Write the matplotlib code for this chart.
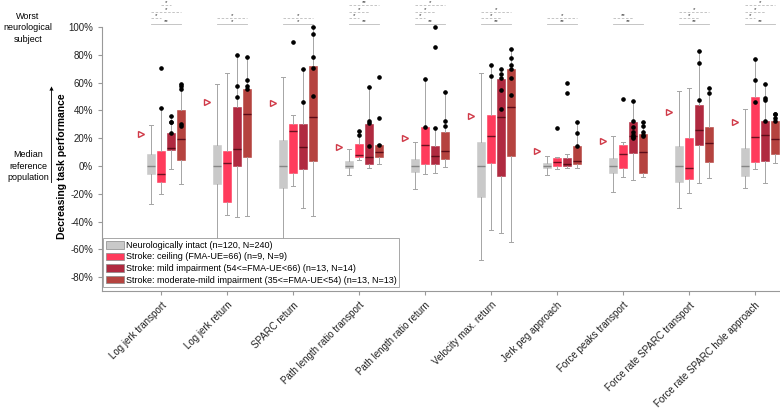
import matplotlib
matplotlib.use('Agg')
import matplotlib.pyplot as plt
import matplotlib.transforms as mtransforms
from matplotlib.patches import Patch
from matplotlib.lines import Line2D
import numpy as np

plt.rcParams['font.family'] = ['Liberation Sans', 'DejaVu Sans']
plt.rcParams['font.size'] = 6.5

metrics = ['Log jerk transport', 'Log jerk return', 'SPARC return',
           'Path length ratio transport', 'Path length ratio return',
           'Velocity max. return', 'Jerk peg approach', 'Force peaks transport',
           'Force rate SPARC transport', 'Force rate SPARC hole approach']

cohorts = ['Neurologically intact (n=120, N=240)',
           'Stroke: ceiling (FMA-UE=66) (n=9, N=9)',
           'Stroke: mild impairment (54<=FMA-UE<66) (n=13, N=14)',
           'Stroke: moderate-mild impairment (35<=FMA-UE<54) (n=13, N=13)']

# box statistics in % (whisker low, q1, median, q3, whisker high)
intact_lo = [-27, -70, -68, -6.5, -16.8, -67.6, -6.5, -18.9, -30.4, -16]
intact_q1 = [-6, -13, -15.6, -1.7, -4.1, -22, -1.7, -4.8, -11.7, -7.2]
intact_med = [0, 0, 0, 0, 0, 0, 0, 0, 0, 0]
intact_q3 = [8.6, 15, 18.7, 3.6, 4.8, 17, 1.9, 5.5, 14.4, 12.7]
intact_hi = [29.5, 58.8, 64, 12.2, 17, 66.7, 7.4, 21.6, 54, 41]

ceil_lo = [-20.4, -35.3, -14.4, 4.3, -6, -46, -2.2, -7.7, -19.6, -2.4]
ceil_q1 = [-11.3, -25.7, -4.8, 6.7, 1.2, 1.9, 0, -1.2, -9.6, 3.1]
ceil_med = [-6, 2, 25.2, 7.9, 14.9, 21.6, 2.7, 8.4, -1.7, 21.1]
ceil_q3 = [11, 11, 30, 15.6, 28.3, 36.7, 5.5, 15.1, 19.9, 49.9]
ceil_hi = [41.7, 67, 36.7, 25.4, 62.6, 72.7, 6.7, 17, 56.3, 76.8]

mild_lo = [-2.2, -36.5, -30.4, -1.7, -4.8, -48.4, -1.2, -10, -12.4, -12.4]
mild_q1 = [11.5, 0, -2.4, 1.2, 1.2, -7, 0, 9.1, 15.1, 3.6]
mild_med = [12.7, 12.4, 13.9, 6.3, 7.2, 35, 1.4, 21.8, 25.9, 22.3]
mild_q3 = [23.5, 42.7, 30.2, 30.2, 14.6, 62.6, 6, 31.9, 43.9, 32.4]
mild_hi = [36, 79.9, 69.8, 57, 27.6, 69.6, 8.4, 47, 82.7, 59]

mod_lo = [-13.2, -35.8, -35.8, 1.4, -1, -54.4, -1.7, -8.1, -8.8, 1.9]
mod_q1 = [4.3, 6.7, 3.6, 6.7, 4.8, 7.2, 1.4, -5.3, 3.1, 8.6]
mod_med = [19.2, 37.2, 35, 9.8, 10.8, 42.2, 3.8, 9.8, 16.3, 19.2]
mod_q3 = [40.3, 55.4, 72.2, 15.1, 24.2, 69.8, 14.4, 23, 27.8, 32.4]
mod_hi = [58.8, 78.2, 100, 15.6, 53, 84.2, 31.4, 31.4, 56.3, 37.4]

# individual stroke subjects drawn as dots
ceil_dots = [[70.5, 41.7], [], [89], [25.4, 22.3], [62.6, 28.3], [72.7, 64.7],
             [27.1], [48.2], [], [76.8, 61.9, 46.3]]
mild_dots = [[36.2, 31.9, 31.4, 24], [79.9, 57.5, 49.9], [69.8, 45.8],
             [57, 32.6, 31.2, 14.6], [100, 85.8, 27.6], [69.6, 66.2, 63.1, 54.7, 40.8],
             [59.5, 52.3], [47, 32.6, 28.3, 24.7, 22.3, 21.1, 19.9],
             [82.7, 73.9, 47.5], [59, 48.7, 47.5, 32.4]]
mod_dots = [[58.8, 57.6, 55.2, 30.2, 29], [78.2, 61.9, 57.5, 55.2],
            [100, 95, 78.6, 70.3, 50.6], [64.2, 34.3, 15.1], [53, 32.4, 28.8],
            [84.2, 77.9, 72.7, 69.6, 63.1, 51.1], [31.4, 23.5, 14.6],
            [31.4, 28.8, 24.7, 22.3, 21.6], [55.9, 52.7], [37.4, 37.4, 34.3, 32.4]]

# worst neurological subject (triangles)
worst = [23, 46.3, 45.1, 13.9, 20.4, 36.2, 11, 18, 39.1, 31.9]

# significance bars: (level, from box, to box, label)
sig = [
    [(0, 1, 2, '*'), (1, 0, 3, '*'), (2, 0, 1, '*'), (3, 0, 3, '**')],
    [(2, 0, 3, '*'), (3, 0, 3, '*')],
    [(2, 0, 3, '*'), (3, 0, 3, '*')],
    [(0, 0, 3, '**'), (1, 0, 2, '*'), (2, 0, 1, '*'), (3, 0, 3, '**')],
    [(0, 0, 3, '*'), (1, 0, 2, '*'), (2, 0, 1, '*'), (3, 0, 3, '**')],
    [(1, 0, 3, '*'), (2, 0, 2, '*'), (3, 0, 3, '**')],
    [(2, 0, 3, '*'), (3, 0, 3, '**')],
    [(2, 0, 2, '**'), (3, 0, 3, '**')],
    [(1, 0, 3, '*'), (2, 0, 2, '*'), (3, 0, 3, '**')],
    [(0, 0, 3, '*'), (1, 0, 2, '*'), (2, 0, 1, '*'), (3, 0, 3, '**')],
]
sig_levels = [115.5, 110.8, 106.3, 102]

colors = ['#c9c9c9', '#ff3b5c', '#b02a40', '#b5433f']
med_colors = ['#858585', '#6b1020', '#5a0c18', '#5a0c18']
offsets = [-0.1515, 0, 0.1515, 0.303]

lo = [intact_lo, ceil_lo, mild_lo, mod_lo]
q1 = [intact_q1, ceil_q1, mild_q1, mod_q1]
med = [intact_med, ceil_med, mild_med, mod_med]
q3 = [intact_q3, ceil_q3, mild_q3, mod_q3]
hi = [intact_hi, ceil_hi, mild_hi, mod_hi]
dots = [None, ceil_dots, mild_dots, mod_dots]

fig = plt.figure(figsize=(7.8, 4.11), dpi=100)
ax = fig.add_axes([102/780, 120/411, 678/780, 291/411])

x = np.arange(len(metrics))
for k in range(4):
    stats = [dict(med=med[k][i], q1=q1[k][i], q3=q3[k][i],
                  whislo=lo[k][i], whishi=hi[k][i]) for i in range(len(metrics))]
    ax.bxp(stats, positions=x + offsets[k], widths=0.13, patch_artist=True,
           showfliers=False, manage_ticks=False, capwidths=0.05,
           boxprops=dict(facecolor=colors[k], edgecolor=colors[k], linewidth=0.4),
           medianprops=dict(color=med_colors[k], linewidth=1.0),
           whiskerprops=dict(color='#a5a5a5', linewidth=0.7),
           capprops=dict(color='#a5a5a5', linewidth=0.7))
    if dots[k] is not None:
        for i in range(len(metrics)):
            d = dots[k][i]
            ax.plot(np.full(len(d), x[i] + offsets[k]), d, 'o', color='black',
                    ms=2.3, zorder=4)

ax.plot(x - 0.303, worst, linestyle='none', marker='>', mfc='white',
        mec='#d03a48', ms=5, mew=1.0, zorder=4)

for i in range(len(metrics)):
    for lev, a, b, lab in sig[i]:
        y = sig_levels[lev]
        xa, xb = x[i] + offsets[a], x[i] + offsets[b]
        ax.plot([xa, xb], [y, y], color='#bbbbbb', lw=0.6,
                linestyle='-' if lev == 3 else (0, (3, 2)), clip_on=False)
        ax.text((xa + xb) / 2, y + 0.2, lab, ha='center', va='bottom',
                fontsize=4.5, color='#333333', clip_on=False)

ax.set_xlim(-0.894, 9.38)
ax.set_ylim(-89.9, 119.4)
ax.set_yticks(np.arange(-80, 101, 20))
ax.set_yticklabels([f'{v}%' for v in range(-80, 101, 20)], fontsize=7)
ax.set_xticks(x)
ax.set_xticklabels(metrics, rotation=45, ha='right', rotation_mode='anchor',
                   fontsize=7)
for s in ['top', 'right']:
    ax.spines[s].set_visible(False)
for s in ['left', 'bottom']:
    ax.spines[s].set_color('#999999')
    ax.spines[s].set_linewidth(0.8)
ax.spines['left'].set_bounds(-89.9, 100)
ax.tick_params(colors='#999999', labelcolor='#222222', length=3, width=0.8)

ax.set_ylabel('Decreasing task performance', fontweight='bold', fontsize=7.5)
ax.yaxis.set_label_coords(-0.0516, 0.4296)

blend = mtransforms.blended_transform_factory(fig.transFigure, ax.transData)
fig.text(28/780, 99.5, 'Worst\nneurological\nsubject', transform=blend,
         ha='center', va='center', linespacing=1.35, fontsize=6.5)
fig.text(28/780, 0, 'Median\nreference\npopulation', transform=blend,
         ha='center', va='center', linespacing=1.35, fontsize=6.5)

# arrow: decreasing performance upwards (figure coordinates)
fig.add_artist(Line2D([0.066, 0.066], [0.556, 0.782], transform=fig.transFigure,
                      color='#222222', lw=0.7, zorder=5))
fig.add_artist(Line2D([0.066], [0.785], transform=fig.transFigure, marker='^',
                      color='black', ms=3, mew=0, zorder=5))

handles = [Patch(facecolor=c, edgecolor='#888888', linewidth=0.5) for c in colors]
leg = ax.legend(handles, cohorts, loc='lower left', bbox_to_anchor=(0.0015, 0.013),
                frameon=True, fancybox=False, edgecolor='#999999', framealpha=1,
                borderpad=0.3, labelspacing=0.28, handlelength=2.0,
                handleheight=0.9, handletextpad=0.2, borderaxespad=0, fontsize=6.5)
leg.get_frame().set_linewidth(0.6)
leg.set_zorder(10)

fig.savefig('out.png', dpi=100)
